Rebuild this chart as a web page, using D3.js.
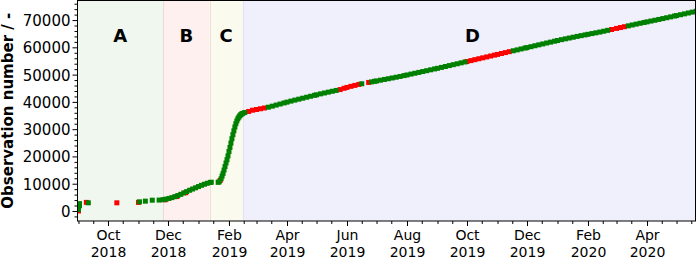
<!DOCTYPE html>
<html><head><meta charset="utf-8">
<script src="https://cdn.jsdelivr.net/npm/d3@7"></script>
<style>
body{margin:0;background:#fff}
svg{display:block}
text{font-family:"DejaVu Sans",sans-serif;fill:#000}
</style>
</head><body>
<svg id="chart" width="697" height="260"></svg>
<script>
// ---------------- data ----------------
const phaseNames  = ["A", "B", "C", "D"];
const phaseStarts = ["2018-08-31", "2018-11-26", "2019-01-12T08:00:00Z", "2019-02-15"];
const phaseEnds   = ["2018-11-26", "2019-01-12T08:00:00Z", "2019-02-15", "2020-05-27"];

const obsDates = [
  // A
  "2018-09-01","2018-09-01","2018-09-01","2018-09-02","2018-09-02","2018-09-09","2018-09-11",
  "2018-10-10","2018-11-01","2018-11-02","2018-11-08","2018-11-15",
  // B
  "2018-11-22","2018-11-26","2018-11-28","2018-11-29","2018-12-02","2018-12-05","2018-12-08",
  "2018-12-10","2018-12-11","2018-12-14","2018-12-17","2018-12-19","2018-12-20","2018-12-23",
  "2018-12-26","2018-12-29","2019-01-01","2019-01-04","2019-01-07","2019-01-10","2019-01-13","2019-01-14",
  // C
  "2019-01-21","2019-01-22","2019-01-23","2019-01-24","2019-01-25","2019-01-26","2019-01-27",
  "2019-01-28","2019-01-29","2019-01-30","2019-01-31","2019-02-01","2019-02-02","2019-02-03",
  "2019-02-04","2019-02-05","2019-02-06","2019-02-07","2019-02-08","2019-02-09","2019-02-10",
  "2019-02-11","2019-02-12","2019-02-13","2019-02-14","2019-02-15",
  // D
  "2019-02-17","2019-02-21","2019-02-25","2019-03-01","2019-03-05","2019-03-09","2019-03-13",
  "2019-03-17","2019-03-21","2019-03-25","2019-03-29","2019-04-01","2019-04-05","2019-04-09",
  "2019-04-13","2019-04-17","2019-04-21","2019-04-25","2019-04-29","2019-05-01","2019-05-05",
  "2019-05-09","2019-05-13","2019-05-17","2019-05-21","2019-05-25","2019-05-29","2019-06-01",
  "2019-06-05","2019-06-09","2019-06-13","2019-06-16","2019-06-23","2019-06-26","2019-06-29",
  "2019-07-01","2019-07-05","2019-07-09","2019-07-13","2019-07-17","2019-07-21","2019-07-25",
  "2019-07-29","2019-08-01","2019-08-05","2019-08-09","2019-08-13","2019-08-17","2019-08-21",
  "2019-08-25","2019-08-29","2019-09-01","2019-09-05","2019-09-09","2019-09-13","2019-09-17",
  "2019-09-21","2019-09-25","2019-09-29","2019-10-01","2019-10-05","2019-10-09","2019-10-13",
  "2019-10-17","2019-10-21","2019-10-25","2019-10-29","2019-11-01","2019-11-05","2019-11-09",
  "2019-11-13","2019-11-17","2019-11-21","2019-11-25","2019-11-29","2019-12-01","2019-12-05",
  "2019-12-09","2019-12-13","2019-12-17","2019-12-21","2019-12-25","2019-12-29","2020-01-01",
  "2020-01-05","2020-01-09","2020-01-13","2020-01-17","2020-01-21","2020-01-25","2020-01-29",
  "2020-02-01","2020-02-05","2020-02-09","2020-02-13","2020-02-17","2020-02-21","2020-02-25",
  "2020-03-01","2020-03-05","2020-03-09","2020-03-13","2020-03-17","2020-03-21","2020-03-25",
  "2020-03-29","2020-04-01","2020-04-05","2020-04-09","2020-04-13","2020-04-17","2020-04-21",
  "2020-04-25","2020-04-29","2020-05-01","2020-05-05","2020-05-09","2020-05-13","2020-05-17","2020-05-21"
];
const obsValues = [
  // A
  0,500,1200,1900,2700,3150,3000,
  3000,3150,3350,3600,3950,
  // B
  4000,4150,4100,4350,4600,4900,5250,
  5300,5650,6100,6600,6700,7100,7600,
  8050,8500,8950,9400,9800,10150,10450,10550,
  // C
  10500,10700,11200,11800,12800,13800,15000,
  16300,17600,18800,20200,21800,23300,24900,
  26500,28000,29400,30800,32000,33000,33800,
  34400,34900,35300,35600,35800,
  // D
  36100,36490,36950,37210,37480,37760,38050,
  38430,38830,39220,39610,39910,40290,40650,
  41000,41350,41710,42060,42410,42590,42940,
  43260,43570,43890,44200,44520,44980,45300,
  45700,46050,46400,46650,47130,47330,47540,
  47670,47950,48220,48490,48770,49040,49320,
  49640,49870,50190,50500,50810,51130,51440,
  51760,52080,52310,52640,52970,53310,53640,
  53970,54310,54640,54810,55140,55480,55820,
  56150,56480,56820,57150,57400,57740,58070,
  58410,58740,59070,59410,59740,59910,60240,
  60580,60920,61250,61590,61920,62250,62500,
  62820,63120,63410,63710,64010,64290,64560,
  64770,65050,65330,65600,65910,66230,66540,
  66940,67260,67570,67880,68200,68510,68820,
  69120,69340,69640,69930,70230,70540,70850,
  71170,71480,71640,71960,72270,72590,72910,73230
];
// g = valid (green), r = flagged (red)
const obsFlags = [
  // A
  "r","g","g","g","g","r","g",
  "r","r","g","g","g",
  // B
  "g","g","r","g","g","g","g",
  "r","g","g","g","r","g","g",
  "g","g","g","g","g","g","g","g",
  // C
  "g","g","r","g","g","g","g",
  "g","g","g","g","g","g","g",
  "g","g","g","g","g","g","g",
  "g","g","g","g","g",
  // D
  "g","r","r","r","r","r","g",
  "g","g","g","g","g","g","g",
  "g","g","g","g","g","g","g",
  "g","g","g","g","r","r","r",
  "r","r","r","g","r","g","g",
  "g","g","g","g","g","g","g",
  "g","g","g","g","g","g","g",
  "g","g","g","g","g","g","g",
  "g","g","g","r","r","r","r",
  "r","r","r","r","r","r","r",
  "r","g","g","g","g","g","g",
  "g","g","g","g","g","g","g",
  "g","g","g","g","g","g","g",
  "g","g","g","g","g","g","r",
  "r","r","r","g","g","g","g",
  "g","g","g","g","g","g","g",
  "g","g","g","g","g","g","g","g"
];

const yTickValues = [0,10000,20000,30000,40000,50000,60000,70000];
const xTickDates  = ["2018-10-01","2018-12-01","2019-02-01","2019-04-01","2019-06-01",
                     "2019-08-01","2019-10-01","2019-12-01","2020-02-01","2020-04-01"];
const xTickLabels = ["Oct\n2018","Dec\n2018","Feb\n2019","Apr\n2019","Jun\n2019",
                     "Aug\n2019","Oct\n2019","Dec\n2019","Feb\n2020","Apr\n2020"];
const yLabel = "Observation number / -";

// ---------------- styles ----------------
const phaseFill   = ["#f0f7ef", "#fdf0ef", "#fafaef", "#f0f0fc"];
const phaseEdge   = ["#e9ddd6", "#eddfd2", "#e3e3ea", "#f0f0fc"];
const flagColor   = {g: "#008000", r: "#ff0000"};

// ---------------- layout ----------------
const plot = {left: 77.5, right: 695.5, top: 0.5, bottom: 221};
const svg = d3.select("#chart");
const parse = s => new Date(s.length === 10 ? s + "T00:00:00Z" : s);

const x = d3.scaleUtc()
  .domain([parse("2018-08-31"), parse("2020-05-20T07:00:00Z")])
  .range([plot.left, plot.right]);
const y = d3.scaleLinear()
  .domain([-3675, 77175])
  .range([plot.bottom, plot.top]);

svg.append("defs").append("clipPath").attr("id","clip")
  .append("rect")
  .attr("x", plot.left).attr("y", plot.top)
  .attr("width", plot.right - plot.left).attr("height", plot.bottom - plot.top);

const g = svg.append("g").attr("clip-path","url(#clip)");

// phase spans
const phases = phaseNames.map((n,i)=>({n, s: parse(phaseStarts[i]), e: parse(phaseEnds[i]), i}));
g.selectAll("rect.phase").data(phases).join("rect")
  .attr("class","phase")
  .attr("x", d => x(d.s)).attr("y", plot.top)
  .attr("width", d => x(d.e) - x(d.s)).attr("height", plot.bottom - plot.top)
  .attr("fill", d => phaseFill[d.i]);
g.selectAll("line.edge").data(phases.slice(1)).join("line")
  .attr("class","edge")
  .attr("x1", d => Math.round(x(d.s)) + 0.5).attr("x2", d => Math.round(x(d.s)) + 0.5)
  .attr("y1", plot.top).attr("y2", plot.bottom)
  .attr("stroke", d => phaseEdge[d.i - 1]).attr("stroke-width", 1);

// observations (red drawn below green)
const obs = obsDates.map((d,i)=>({t: parse(d), v: obsValues[i], f: obsFlags[i]}));
const ms = 5;
["r","g"].forEach(flag => {
  g.append("g").selectAll("rect").data(obs.filter(o => o.f === flag)).join("rect")
    .attr("x", d => x(d.t) - ms/2).attr("y", d => y(d.v) - ms/2)
    .attr("width", ms).attr("height", ms)
    .attr("fill", flagColor[flag]);
});

// phase labels
svg.append("g").selectAll("text").data(phases).join("text")
  .attr("x", d => (Math.max(x(d.s), plot.left) + x(d.e)) / 2)
  .attr("y", 41.5)
  .attr("text-anchor","middle")
  .style("font-size","18px").style("font-weight","bold")
  .text(d => d.n);

// frame
svg.append("rect")
  .attr("x", plot.left).attr("y", plot.top)
  .attr("width", plot.right - plot.left).attr("height", plot.bottom - plot.top)
  .attr("fill","none").attr("stroke","#000").attr("stroke-width",1);

// y axis
const yMinor = d3.range(-2000, 77001, 2000).filter(v => v % 10000 !== 0);
const yAxis = svg.append("g").attr("transform", `translate(${plot.left},0)`)
  .call(d3.axisLeft(y).tickValues(yTickValues).tickSize(5).tickPadding(2).tickFormat(d3.format("d")));
yAxis.select(".domain").remove();
yAxis.selectAll("text").style("font-size","15px").attr("dy","0.36em");
const yAxisMinor = svg.append("g").attr("transform", `translate(${plot.left},0)`)
  .call(d3.axisLeft(y).tickValues(yMinor).tickSize(3).tickFormat(""));
yAxisMinor.select(".domain").remove();

// x axis
const xMinor = d3.utcDay.range(x.domain()[0], x.domain()[1])
  .filter(d => (d.getUTCDate() === 1 || d.getUTCDate() === 16));
const xAxisMinor = svg.append("g").attr("transform", `translate(0,${plot.bottom})`)
  .call(d3.axisBottom(x).tickValues(xMinor).tickSize(3).tickFormat(""));
xAxisMinor.select(".domain").remove();
const majors = xTickDates.map(parse);
const xAxis = svg.append("g").attr("transform", `translate(0,${plot.bottom})`)
  .call(d3.axisBottom(x).tickValues(majors).tickSize(5).tickFormat(""));
xAxis.select(".domain").remove();
xAxis.selectAll(".tick").each(function(d,i){
  const t = d3.select(this).append("text")
    .attr("text-anchor","middle").style("font-size","14px").attr("fill","#000");
  xTickLabels[i].split("\n").forEach((line,k) => {
    t.append("tspan").attr("x",0).attr("y", k === 0 ? 19 : 35.5).text(line);
  });
});
svg.selectAll(".tick line").attr("stroke","#000");

// y label
svg.append("text")
  .attr("transform", `translate(12.5,${(plot.top + plot.bottom)/2}) rotate(-90)`)
  .attr("text-anchor","middle")
  .style("font-size","15px").style("font-weight","bold")
  .text(yLabel);
</script>
</body></html>
